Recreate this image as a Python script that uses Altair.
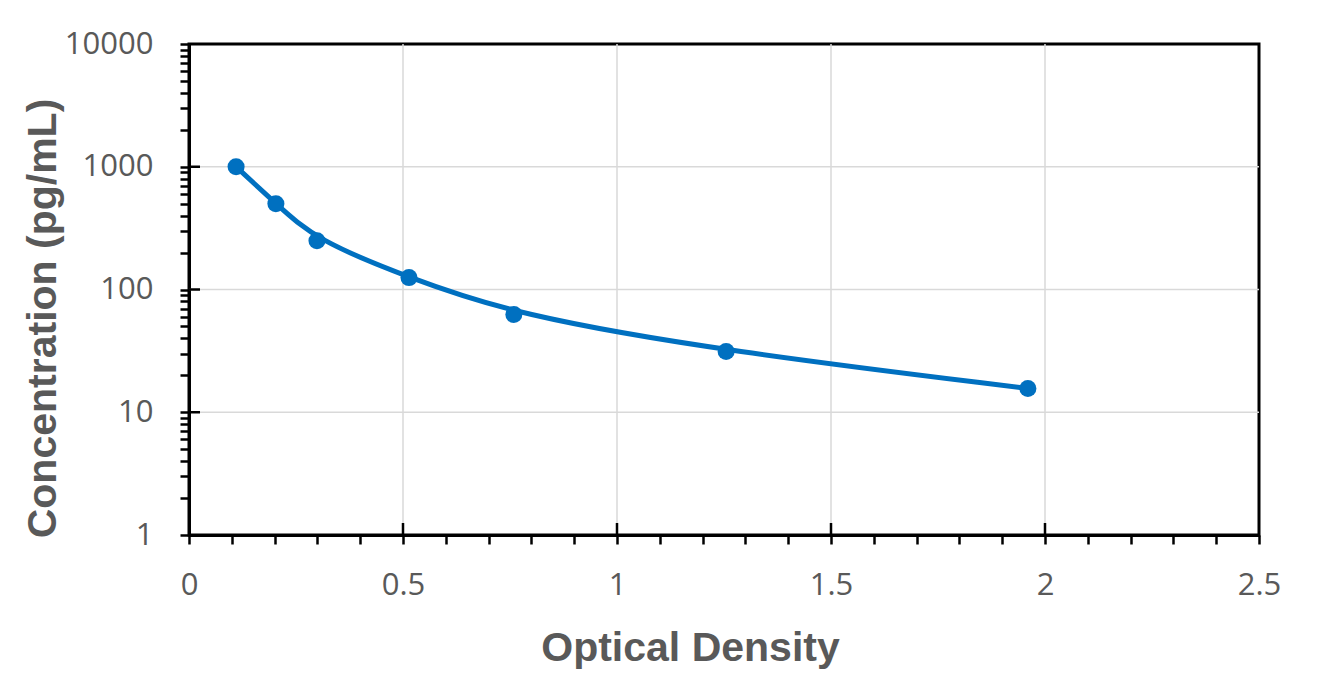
import altair as alt
import pandas as pd

# data
od = [0.11, 0.203, 0.299, 0.514, 0.759, 1.255, 1.96]
conc = [1000, 500, 250, 125, 62.5, 31.25, 15.625]

y_major = [1, 10, 100, 1000, 10000]
y_minor = [2, 3, 4, 5, 6, 7, 8, 9,
           20, 30, 40, 50, 60, 70, 80, 90,
           200, 300, 400, 500, 600, 700, 800, 900,
           2000, 3000, 4000, 5000, 6000, 7000, 8000, 9000]
x_ticks = [0, 0.1, 0.2, 0.3, 0.4, 0.5, 0.6, 0.7, 0.8, 0.9, 1.0,
           1.1, 1.2, 1.3, 1.4, 1.5, 1.6, 1.7, 1.8, 1.9, 2.0,
           2.1, 2.2, 2.3, 2.4, 2.5]
x_grid = [0.5, 1, 1.5, 2]
y_grid = [10, 100, 1000]

W, H = 1070, 491
BLUE = "#0070C0"
GRAY = "#595959"
GRID = "#d9d9d9"

pts = pd.DataFrame({"od": od, "conc": conc})
xg = pd.DataFrame({"od": x_grid})
yg = pd.DataFrame({"conc": y_grid})

xscale = alt.Scale(domain=[0, 2.5], nice=False, zero=False)
yscale = alt.Scale(type="log", domain=[1, 10000], nice=False)

x_axis = alt.Axis(
    values=x_ticks,
    labelExpr="abs(datum.value*2 - round(datum.value*2)) < 1e-6 ? format(datum.value, '~g') : ''",
    labelOverlap=False, labelFlush=False, labelBaseline="alphabetic", labelPadding=50,
    title="Optical Density", titleX=501, titleY=125, titleAlign="center",
    titleBaseline="alphabetic", grid=False,
)
y_axis = alt.Axis(
    values=y_major + y_minor,
    labelExpr="indexof([1,10,100,1000,10000], datum.value) >= 0 ? format(datum.value, 'd') : ''",
    labelOverlap=False, labelFlush=False, labelPadding=27,
    title="Concentration (pg/mL)", titleX=-134, titleY=274, titleAlign="center",
    titleBaseline="alphabetic", grid=False,
)

X = alt.X("od:Q", scale=xscale, axis=x_axis)
Y = alt.Y("conc:Q", scale=yscale, axis=y_axis)

gridx = alt.Chart(xg).mark_rule(color=GRID, strokeWidth=1.5).encode(x=X)
gridy = alt.Chart(yg).mark_rule(color=GRID, strokeWidth=1.5).encode(y=Y)

line = alt.Chart(pts).mark_line(color=BLUE, strokeWidth=5, interpolate="basis").encode(x=X, y=Y)
points = alt.Chart(pts).mark_point(filled=True, color=BLUE, size=290, opacity=1).encode(x=X, y=Y)

tick_in_y = alt.Chart(yg).mark_rule(color="black", strokeWidth=2.5).encode(
    y=Y, x=alt.value(0), x2=alt.value(11))
tick_in_x = alt.Chart(xg).mark_rule(color="black", strokeWidth=2.5).encode(
    x=X, y=alt.value(H), y2=alt.value(H - 12))

chart = alt.layer(gridx, gridy, tick_in_y, tick_in_x, line, points).properties(
    width=W, height=H,
    autosize=alt.AutoSizeParams(type="none"),
    padding={"left": 189, "top": 44, "right": 66, "bottom": 150},
    background="white",
).configure_view(
    stroke="black", strokeWidth=3
).configure_axis(
    labelFont="Open Sans", labelFontSize=31, labelColor=GRAY,
    titleFont="Liberation Sans", titleFontSize=41, titleFontWeight="bold", titleColor=GRAY,
    domainColor="black", domainWidth=3,
    tickColor="black", tickWidth=2.5, tickSize=9,
)

chart.save("out.html", embed_options={"renderer": "svg", "actions": False})
